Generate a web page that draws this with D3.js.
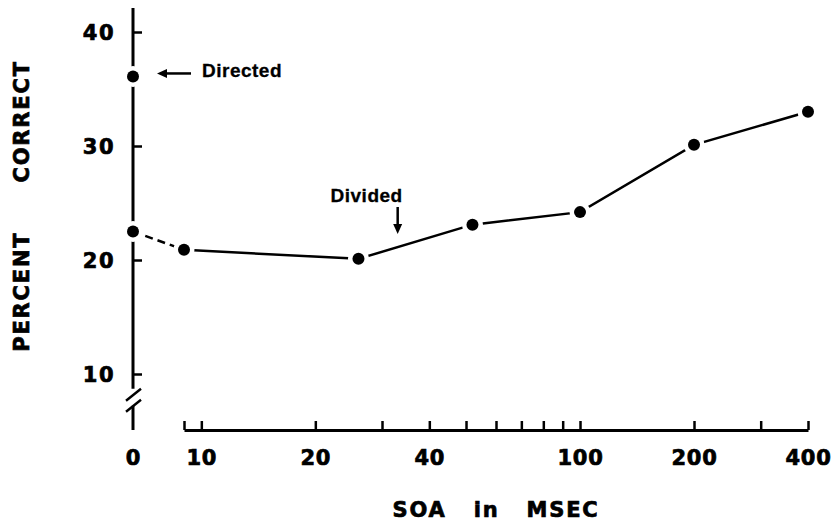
<!DOCTYPE html>
<html>
<head>
<meta charset="utf-8">
<script src="https://cdn.jsdelivr.net/npm/d3@7"></script>
<style>
  html, body { margin: 0; padding: 0; background: #fff; }
  text { font-family: 'DejaVu Sans', sans-serif; font-weight: bold; fill: #000; stroke: #000; stroke-width: 0.7px; }
  text.note { font-family: 'Liberation Sans', Arial, sans-serif; stroke-width: 0.3px; }
</style>
</head>
<body>
<div id="main"></div>
<script>
// values
const soa = [9, 26, 52, 100, 200, 400];
const dividedPct = [20.9, 20.1, 23.1, 24.2, 30.1, 33.0];
const zeroDivided = 22.5;
const zeroDirected = 36.1;
const xTicks = [9, 10, 20, 30, 40, 50, 60, 70, 80, 90, 100, 200, 300, 400];
const xTickLabels = [10, 20, 40, 100, 200, 400];
const yTicks = [10, 20, 30, 40];

const WIDTH = 836, HEIGHT = 530;
const AXISX = 133, AXISY = 430;

const svg = d3.select('#main').append('svg').attr('width', WIDTH).attr('height', HEIGHT);

const x = d3.scaleLog().domain([9, 400]).range([184, 808]);
const y = d3.scaleLinear().domain([10, 40]).range([374, 32]);

// x axis (log part)
const axisX = d3.axisBottom(x)
    .tickValues(xTicks)
    .tickSizeInner(-9)
    .tickSizeOuter(0)
    .tickPadding(20)
    .tickFormat((d) => xTickLabels.includes(d) ? d3.format('d')(d) : '');
const gx = svg.append('g').attr('transform', `translate(0,${AXISY})`).call(axisX);
gx.select('.domain').attr('stroke-width', 3);
gx.selectAll('.tick line').attr('stroke-width', 2.5);
gx.selectAll('.tick text').attr('font-size', 21).attr('letter-spacing', 0.8);

// the "0" column sits on the y axis
svg.append('text').attr('x', AXISX).attr('y', AXISY + 35).attr('text-anchor', 'middle')
    .attr('font-size', 21).text('0');

// y axis
const axisY = d3.axisLeft(y)
    .tickValues(yTicks)
    .tickSizeInner(-9)
    .tickSizeOuter(0)
    .tickPadding(18);
const gy = svg.append('g').attr('transform', `translate(${AXISX},0)`).call(axisY);
gy.select('.domain').remove();
gy.selectAll('.tick line').attr('stroke-width', 2.5);
gy.selectAll('.tick text').attr('font-size', 21).attr('letter-spacing', 1.5).attr('dy', '0.36em');

// axis line with break
const yTop = y(42.1);
const brk = y(8.7);
svg.append('line').attr('x1', AXISX).attr('x2', AXISX).attr('y1', yTop).attr('y2', brk)
    .attr('stroke', '#000').attr('stroke-width', 3);
svg.append('line').attr('x1', AXISX).attr('x2', AXISX).attr('y1', brk + 17).attr('y2', AXISY)
    .attr('stroke', '#000').attr('stroke-width', 3);
[0, 11].forEach((o) => {
    svg.append('line')
        .attr('x1', AXISX + 8).attr('y1', brk + o)
        .attr('x2', AXISX - 7).attr('y2', brk + o + 12)
        .attr('stroke', '#000').attr('stroke-width', 2.5);
});

// data lines
const pts = soa.map((s, i) => ({ px: x(s), py: y(dividedPct[i]) }));
const p0 = { px: AXISX, py: y(zeroDivided) };
const pDir = { px: AXISX, py: y(zeroDirected) };

svg.append('line')
    .attr('x1', p0.px).attr('y1', p0.py).attr('x2', pts[0].px).attr('y2', pts[0].py)
    .attr('stroke', '#000').attr('stroke-width', 2.5).attr('stroke-dasharray', '8,5');

const line = d3.line().x((d) => d.px).y((d) => d.py);
svg.append('path').attr('d', line(pts)).attr('fill', 'none')
    .attr('stroke', '#000').attr('stroke-width', 2.5);

// white halo gaps then points
const allPts = [pDir, p0, ...pts];
svg.selectAll('circle.halo').data(allPts).enter().append('circle').attr('class', 'halo')
    .attr('cx', (d) => d.px).attr('cy', (d) => d.py).attr('r', 10.5).attr('fill', '#fff');
svg.selectAll('circle.pt').data(allPts).enter().append('circle').attr('class', 'pt')
    .attr('cx', (d) => d.px).attr('cy', (d) => d.py).attr('r', 6).attr('fill', '#000');

// annotation: Directed
const ay = pDir.py - 3;
svg.append('line').attr('x1', AXISX + 31).attr('x2', AXISX + 58).attr('y1', ay).attr('y2', ay)
    .attr('stroke', '#000').attr('stroke-width', 2.5);
svg.append('path')
    .attr('d', `M${AXISX + 24},${ay} L${AXISX + 34},${ay - 4.5} L${AXISX + 34},${ay + 4.5} Z`)
    .attr('fill', '#000');
svg.append('text').attr('class', 'note').attr('x', AXISX + 69).attr('y', pDir.py + 1)
    .attr('font-size', 19).attr('letter-spacing', 0.5).text('Directed');

// annotation: Divided
const dx = x(33);
svg.append('line').attr('x1', dx).attr('x2', dx).attr('y1', 207).attr('y2', 226)
    .attr('stroke', '#000').attr('stroke-width', 2.5);
svg.append('path')
    .attr('d', `M${dx},234 L${dx - 4.5},224 L${dx + 4.5},224 Z`)
    .attr('fill', '#000');
svg.append('text').attr('class', 'note').attr('x', dx + 5).attr('y', 202).attr('text-anchor', 'end')
    .attr('font-size', 19).attr('letter-spacing', 0.5).text('Divided');

// axis titles
svg.append('text')
    .attr('transform', `translate(29,206) rotate(-90)`)
    .attr('text-anchor', 'middle').attr('font-size', 21)
    .attr('letter-spacing', 1.8).attr('word-spacing', 40)
    .text('PERCENT CORRECT');
svg.append('text')
    .attr('x', 496).attr('y', 517).attr('text-anchor', 'middle').attr('font-size', 21)
    .attr('letter-spacing', 1.8).attr('word-spacing', 18)
    .text('SOA in MSEC');
</script>
</body>
</html>
